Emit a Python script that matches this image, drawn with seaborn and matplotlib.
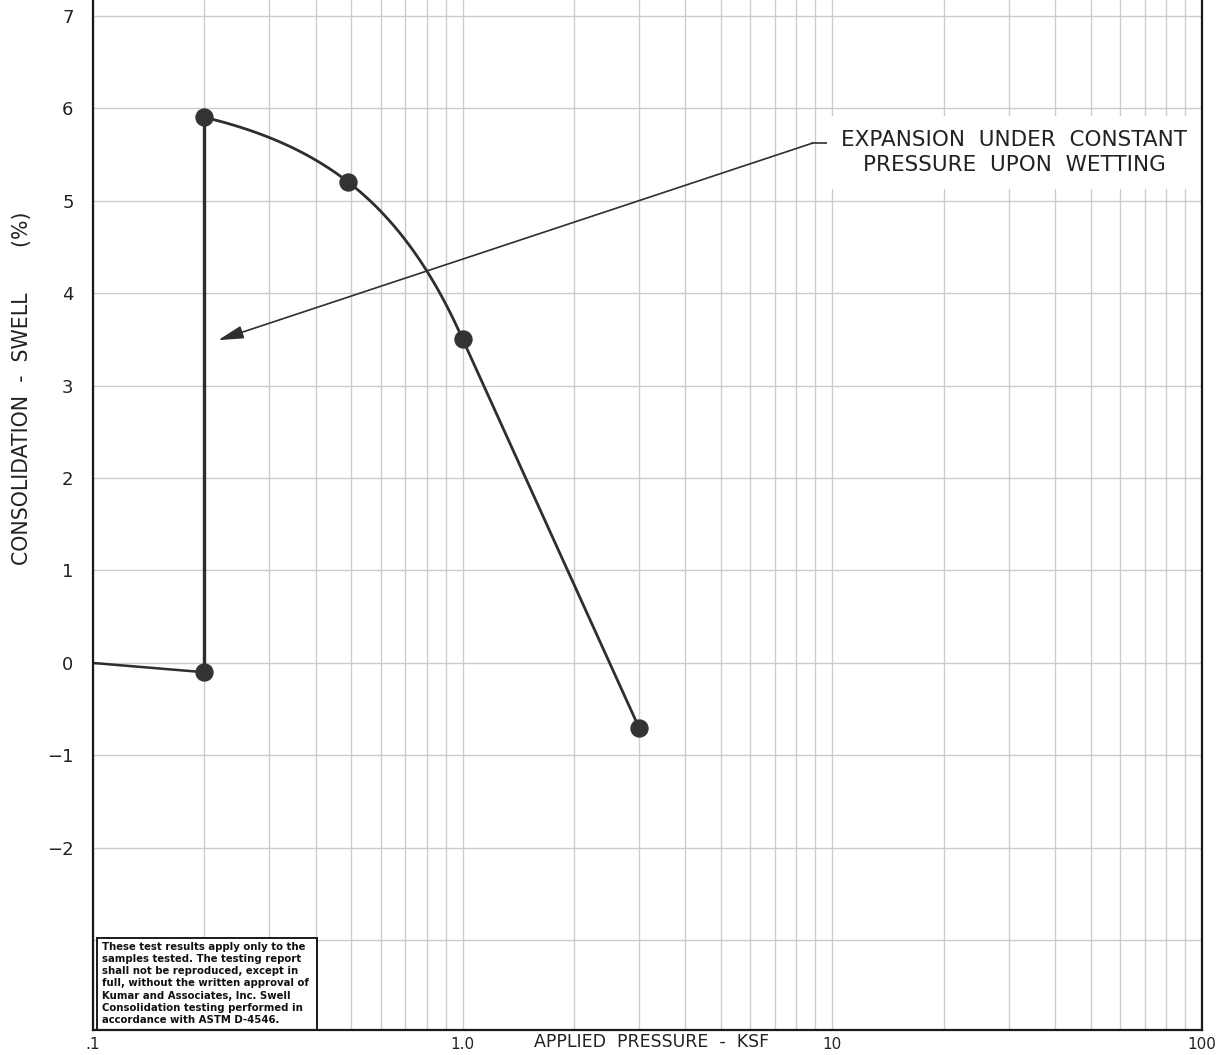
import numpy as np
import seaborn as sns
import matplotlib.pyplot as plt
from matplotlib.patches import Rectangle
from matplotlib.ticker import FixedLocator, FixedFormatter, LogLocator

# initial (dry) readings and readings after wetting
pressure_dry = [0.1, 0.2]
swell_dry = [0.0, -0.1]
pressure_wet = [0.2, 0.49, 1.0, 3.0]
swell_wet = [5.9, 5.2, 3.5, -0.7]

x_ticks = [0.1, 1.0, 10, 100]
x_tick_labels = [".1", "1.0", "10", "100"]
y_ticks = [-3, -2, -1, 0, 1, 2, 3, 4, 5, 6, 7]
y_tick_labels = ["", "\u22122", "\u22121", "0", "1", "2", "3", "4", "5", "6", "7"]

note = ("These test results apply only to the\n"
        "samples tested. The testing report\n"
        "shall not be reproduced, except in\n"
        "full, without the written approval of\n"
        "Kumar and Associates, Inc. Swell\n"
        "Consolidation testing performed in\n"
        "accordance with ASTM D-4546.")

sns.set_theme(style="white")
plt.rcParams["font.family"] = ["DejaVu Sans"]
ink = "#2e2e2e"

fig, ax = plt.subplots(figsize=(12.29, 10.55), dpi=100)
fig.subplots_adjust(left=0.0757, right=0.978, bottom=0.0237, top=1.0)
ax.set_xscale("log")

# smooth the loading curve between 0.2 and 1.0 ksf, straight after that
coef = np.polyfit(pressure_wet[:3], swell_wet[:3], 2)
xs = np.geomspace(pressure_wet[0], pressure_wet[2], 80)
curve_x = list(xs) + [pressure_wet[3]]
curve_y = list(np.polyval(coef, xs)) + [swell_wet[3]]

sns.lineplot(x=pressure_dry, y=swell_dry, sort=False, estimator=None, color=ink, lw=1.8, ax=ax)
sns.lineplot(x=[pressure_dry[1], pressure_wet[0]], y=[swell_dry[1], swell_wet[0]],
             sort=False, estimator=None, color=ink, lw=2.4, ax=ax)
sns.lineplot(x=curve_x, y=curve_y, sort=False, estimator=None, color=ink, lw=2, ax=ax)
sns.scatterplot(x=pressure_dry[1:] + pressure_wet, y=swell_dry[1:] + swell_wet,
                s=150, color="#333333", edgecolor="#333333", zorder=5, ax=ax)

ax.set_xlim(0.1, 100)
ax.set_ylim(-3.968, 7.168)
ax.xaxis.set_major_locator(FixedLocator(x_ticks))
ax.xaxis.set_major_formatter(FixedFormatter(x_tick_labels))
ax.xaxis.set_minor_locator(LogLocator(base=10, subs=np.arange(2, 10)))
ax.xaxis.set_minor_formatter(FixedFormatter([]))
ax.yaxis.set_major_locator(FixedLocator(y_ticks))
ax.yaxis.set_major_formatter(FixedFormatter(y_tick_labels))
ax.tick_params(axis="x", which="both", length=0, pad=5, labelsize=11, labelcolor="#222222")
ax.tick_params(axis="y", length=0, pad=14, labelsize=13, labelcolor="#222222")
ax.grid(True, which="both", axis="x", color="#cccccc", lw=1)
ax.grid(True, which="major", axis="y", color="#cccccc", lw=1)
ax.set_xlabel("")
ax.set_ylabel("")

for side in ["left", "bottom", "right"]:
    ax.spines[side].set_color("#1a1a1a")
    ax.spines[side].set_linewidth(1.6)
    ax.spines[side].set_zorder(8)
ax.spines["top"].set_visible(False)

ax.text(0.504, -0.0115, "APPLIED  PRESSURE  -  KSF", transform=ax.transAxes,
        ha="center", va="center", fontsize=12.5, color="#222222")
fig.text(0.018, 1 - 388 / 1055, "CONSOLIDATION  -  SWELL       (%)", rotation=90,
         ha="center", va="center", fontsize=14.8, color="#222222")

# annotation for the wetting expansion
ax.plot([8.83, 9.82], [5.62, 5.62], color=ink, lw=1.2)
ax.annotate("", xy=(0.218, 3.49), xytext=(8.83, 5.62),
            arrowprops=dict(arrowstyle="-|>,head_length=1.1,head_width=0.28", color=ink,
                            lw=1.2, mutation_scale=14, shrinkA=0, shrinkB=0))
ax.text(31.0, 5.52, "EXPANSION  UNDER  CONSTANT\nPRESSURE  UPON  WETTING", ha="center", va="center",
        fontsize=15.5, linespacing=1.3, color="#222222",
        bbox=dict(fc="white", ec="none", pad=10), zorder=6)

# disclaimer box
ax.add_patch(Rectangle((0.0036, 0.0), 0.198, 0.0893, transform=ax.transAxes,
                       fc="white", ec="#1a1a1a", lw=1.4, zorder=6))
ax.text(0.0081, 0.0855, note, transform=ax.transAxes, ha="left", va="top",
        fontsize=7.3, fontweight="bold", linespacing=1.27, color="#111111", zorder=7)

fig.savefig("out.png", dpi=100)
plt.clf()
